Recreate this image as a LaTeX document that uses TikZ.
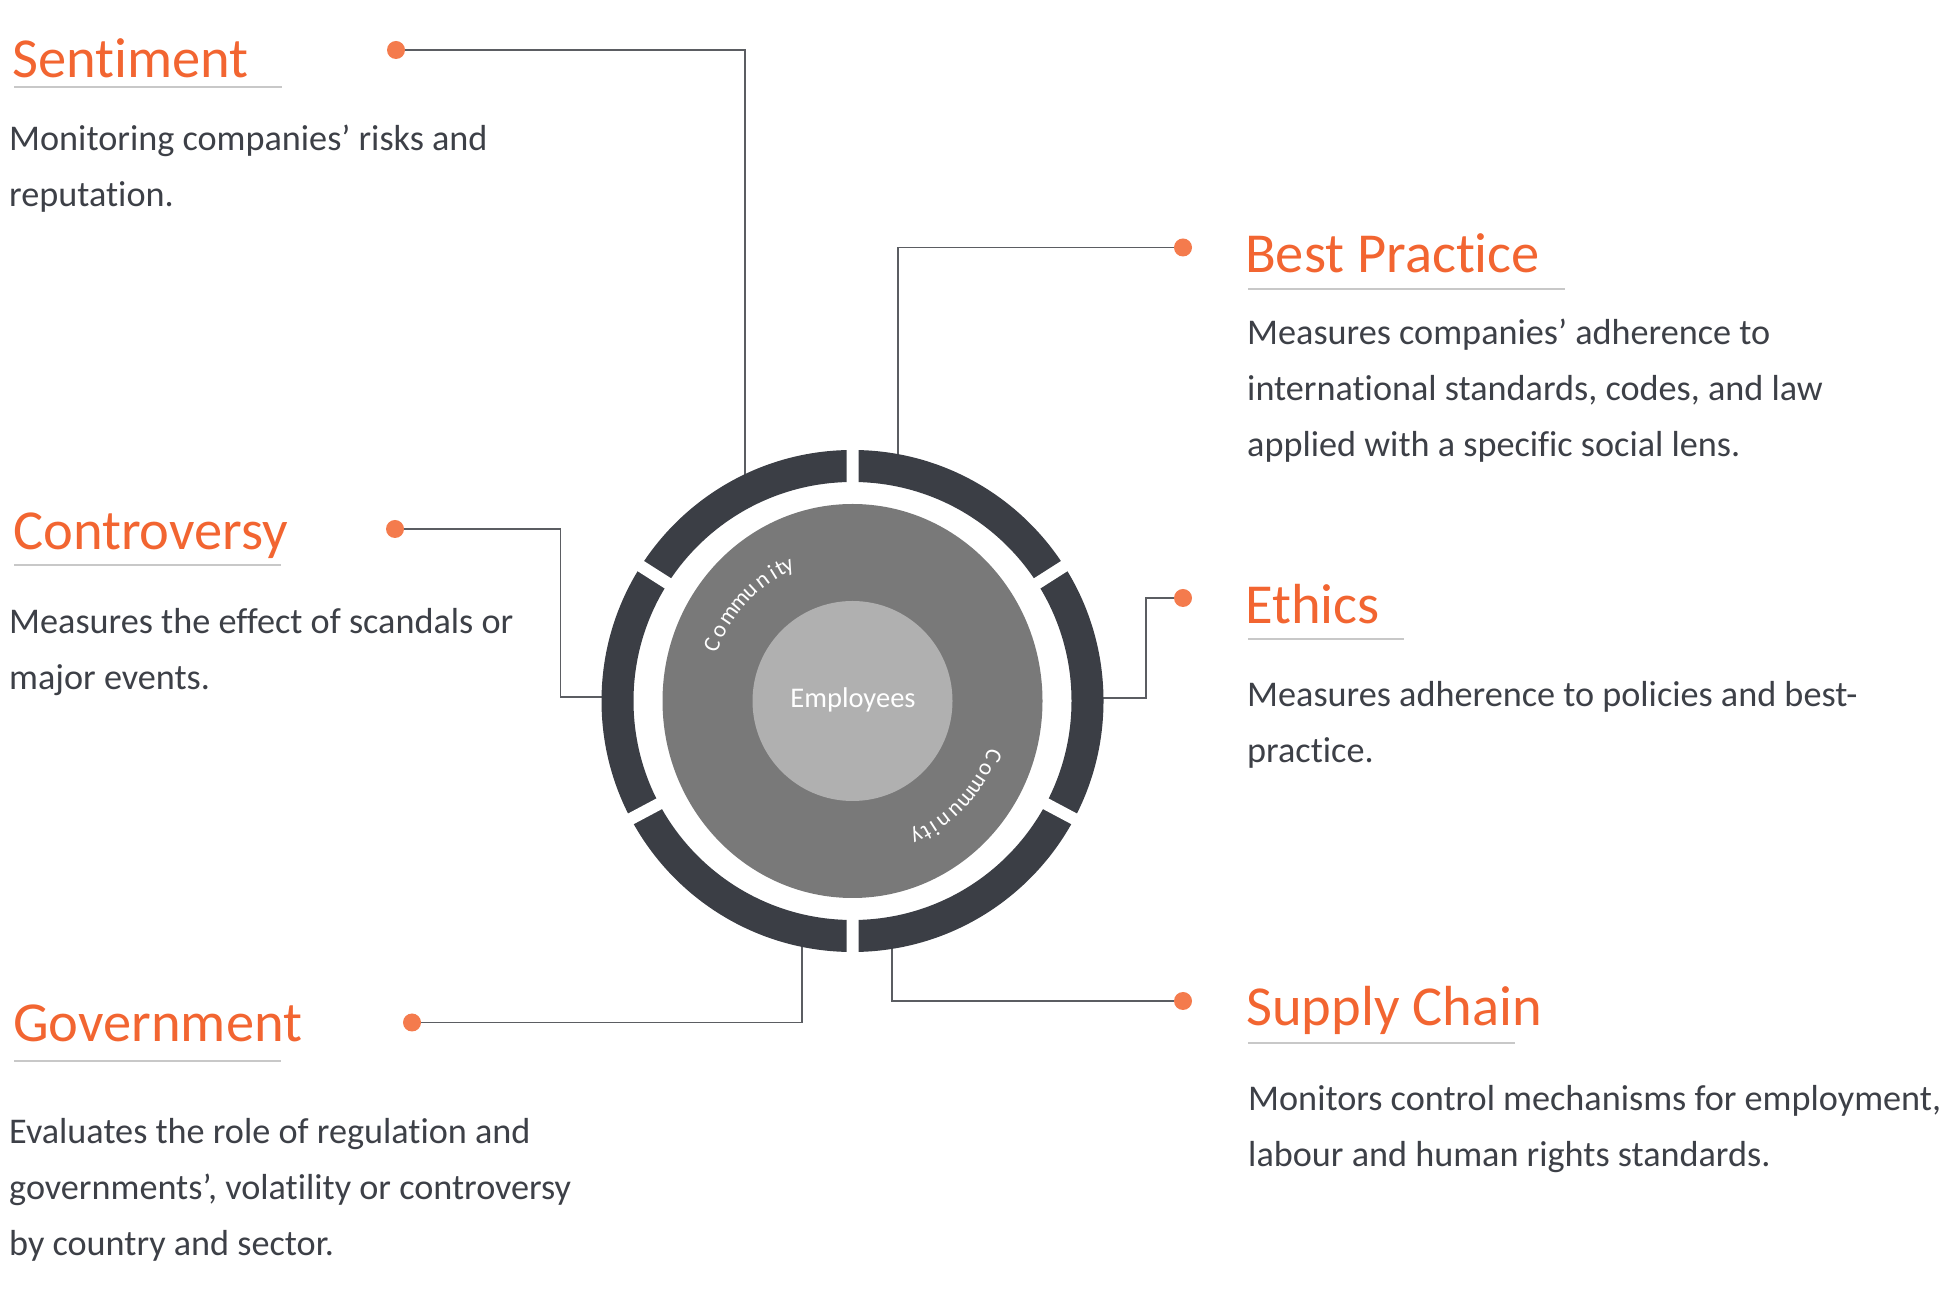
\documentclass[tikz,border=0pt]{standalone}
\usepackage{fontspec}
\setmainfont{Carlito}[Ligatures=NoCommon]
\usepackage{xcolor}

\definecolor{titleorange}{HTML}{F26531}
\definecolor{dotorange}{HTML}{F47B4D}
\definecolor{bodygray}{HTML}{3D4047}
\definecolor{ringdark}{HTML}{3B3E45}
\definecolor{midgray}{HTML}{797979}
\definecolor{lightgray}{HTML}{B0B0B0}
\definecolor{rulegray}{HTML}{C8C8C8}
\definecolor{linkgray}{HTML}{5B5D62}

\begin{document}
\begin{tikzpicture}[x=1pt,y=1pt,
  titletext/.style={anchor=base west,inner sep=0pt,text=titleorange,font=\fontsize{56.5}{60}\selectfont},
  bodytext/.style={anchor=base west,inner sep=0pt,align=left,text=bodygray,font=\fontsize{36.2}{56}\selectfont},
  tagdot/.style={circle,fill=dotorange,inner sep=0pt,minimum size=18pt},
  linkline/.style={draw=linkgray,line width=1.8pt},
  titlerule/.style={draw=rulegray,line width=2pt},
  ringgap/.style={draw=white,line width=12pt},
  commletter/.style={anchor=base,inner sep=0pt,text=white,font=\fontsize{23}{23}\selectfont}]
\useasboundingbox (0,0) rectangle (1953,1290);
\coordinate (ctr) at (852.5,589);

% dots
\node[tagdot] (sentdot) at (396,1240) {};
\node[tagdot] (contdot) at (395,761) {};
\node[tagdot] (govdot) at (412,267.5) {};
\node[tagdot] (bestdot) at (1183,1042.5) {};
\node[tagdot] (ethdot) at (1183,692) {};
\node[tagdot] (supdot) at (1183,289) {};

% where the lines meet the ring
\coordinate (sentend) at (745,808);
\coordinate (bestend) at (898,828);
\coordinate (contbend) at (560.5,593);
\coordinate (contend) at (610,593);
\coordinate (ethbend) at (1146,592);
\coordinate (ethend) at (1096,592);
\coordinate (govend) at (802,350);
\coordinate (supend) at (892,348);

\draw[linkline] (sentdot) -| (sentend);
\draw[linkline] (bestdot) -| (bestend);
\draw[linkline] (contdot) -| (contbend) -- (contend);
\draw[linkline] (ethdot) -| (ethbend) -- (ethend);
\draw[linkline] (govdot) -| (govend);
\draw[linkline] (supdot) -| (supend);

% ring
\fill[ringdark,even odd rule] (ctr) circle (251) (ctr) circle (219);
\draw[ringgap] (ctr) -- ++(90:280) (ctr) -- ++(270:280) (ctr) -- ++(32.5:280)
  (ctr) -- ++(147.5:280) (ctr) -- ++(-28:280) (ctr) -- ++(208:280);
\fill[midgray] (ctr) ellipse [x radius=190,y radius=197];
\fill[lightgray] (ctr) circle (100);
\node[anchor=base,inner sep=0pt,text=white,font=\fontsize{28.5}{30}\selectfont] (employees) at (853,582.8) {Employees};

\foreach \ch/\ang [count=\i] in {C/158.2,o/152.4,m/145.4,m/138.6,u/133,n/126.8,i/121.8,t/118.6,y/115.5}
  \node[commletter,rotate=\ang-90] (ca\i) at ([shift={(\ang:144)}]ctr) {\ch};
\foreach \ch/\ang [count=\i] in {C/-21.2,o/-27.4,m/-33.7,m/-40.3,u/-46.4,n/-52.4,i/-57.2,t/-60.7,y/-64.7}
  \node[commletter,rotate=\ang-90] (cb\i) at ([shift={(\ang:144)}]ctr) {\ch};

% titles
\node[titletext] (senttitle) at (12,1212) {Sentiment};
\node[titletext] (conttitle) at (13,740) {Controversy};
\node[titletext] (govtitle) at (13,248) {Government};
\node[titletext] (besttitle) at (1245,1017) {Best Practice};
\node[titletext] (ethtitle) at (1245,666) {Ethics};
\node[titletext] (suptitle) at (1246,264) {Supply Chain};

\draw[titlerule] (14,1203) -- (282,1203);
\draw[titlerule] (14,725) -- (281,725);
\draw[titlerule] (14,229) -- (281,229);
\draw[titlerule] (1248,1001) -- (1565,1001);
\draw[titlerule] (1248,651) -- (1404,651);
\draw[titlerule] (1248,247) -- (1515,247);

% texts (anchored at the last line)
\node[bodytext] (senttext) at (9,1083) {Monitoring companies’ risks and\\reputation.};
\node[bodytext] (conttext) at (9,600) {Measures the effect of scandals or\\major events.};
\node[bodytext] (govtext) at (9,35) {Evaluates the role of regulation and\\governments’, volatility or controversy\\by country and sector.};
\node[bodytext] (besttext) at (1247,833) {Measures companies’ adherence to\\international standards, codes, and law\\applied with a specific social lens.};
\node[bodytext] (ethtext) at (1247,527) {Measures adherence to policies and best-\\practice.};
\node[bodytext] (suptext) at (1248,124) {Monitors control mechanisms for employment,\\labour and human rights standards.};
\end{tikzpicture}
\end{document}
